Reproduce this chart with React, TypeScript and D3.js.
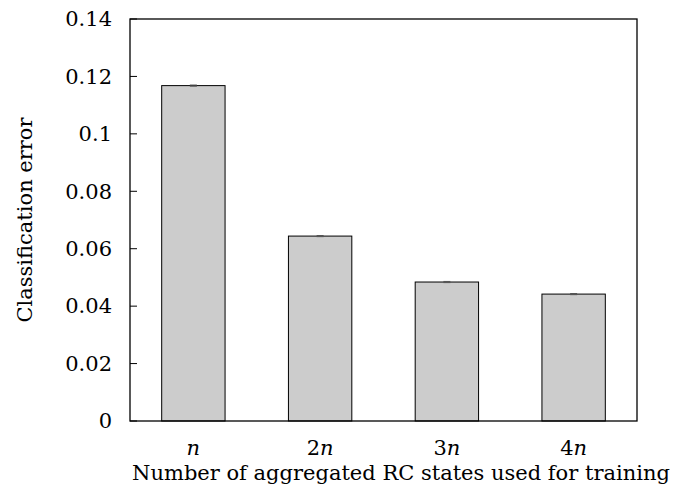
import React from "react";
import * as d3 from "d3";

const categories = ["n", "2n", "3n", "4n"];
const values = [0.1168, 0.0644, 0.0484, 0.0442];
const errors = [0.0002, 0.0002, 0.0002, 0.0002];
const yTicks = [0, 0.02, 0.04, 0.06, 0.08, 0.1, 0.12, 0.14];
const yTickLabels = ["0", "0.02", "0.04", "0.06", "0.08", "0.1", "0.12", "0.14"];
const xTitle = "Number of aggregated RC states used for training";
const yTitle = "Classification error";

const W = 684, H = 498;
const L = 130, R = 637, T = 19, B = 421;
const FONT = "DejaVu Serif";

export default function App() {
  const x = d3.scaleBand<string>().domain(categories).range([L, R]).paddingInner(0.5).paddingOuter(0.25);
  const y = d3.scaleLinear().domain([0, 0.14]).range([B, T]);

  return (
    <svg width={W} height={H} style={{ position: "absolute", left: 0, top: 0, background: "#fff" }}>
      {categories.map((c, i) => (
        <g key={c}>
          <rect x={x(c)!} y={y(values[i])} width={x.bandwidth()} height={B - y(values[i])}
            fill="#cccccc" stroke="#000" strokeWidth={1} />
          <line x1={x(c)! + x.bandwidth() / 2 - 3.5} x2={x(c)! + x.bandwidth() / 2 + 3.5}
            y1={y(values[i] + errors[i])} y2={y(values[i] + errors[i])} stroke="#555" strokeWidth={1} />
          <line x1={x(c)! + x.bandwidth() / 2 - 3.5} x2={x(c)! + x.bandwidth() / 2 + 3.5}
            y1={y(values[i] - errors[i])} y2={y(values[i] - errors[i])} stroke="#555" strokeWidth={1} />
        </g>
      ))}
      <rect x={L} y={T} width={R - L} height={B - T} fill="none" stroke="#000" strokeWidth={1.3} />
      {yTicks.map((t, i) => (
        <g key={t}>
          <line x1={L} x2={L + 7} y1={y(t)} y2={y(t)} stroke="#000" strokeWidth={1} />
          <text x={112} y={y(t)} dy="0.35em" textAnchor="end" fontFamily={FONT} fontSize={21} fill="#000">
            {yTickLabels[i]}
          </text>
        </g>
      ))}
      {categories.map((c) => {
        const m = c.match(/^(\d*)(n)$/)!;
        return (
          <text key={c} x={x(c)! + x.bandwidth() / 2} y={455} textAnchor="middle" fontFamily={FONT} fontSize={21} fill="#000">
            {m[1]}<tspan fontStyle="italic">{m[2]}</tspan>
          </text>
        );
      })}
      <text x={401} y={480} textAnchor="middle" fontFamily={FONT} fontSize={21} fill="#000">
        {xTitle}
      </text>
      <text transform={`translate(32, ${(T + B) / 2}) rotate(-90)`} textAnchor="middle" fontFamily={FONT} fontSize={21} fill="#000">
        {yTitle}
      </text>
    </svg>
  );
}
